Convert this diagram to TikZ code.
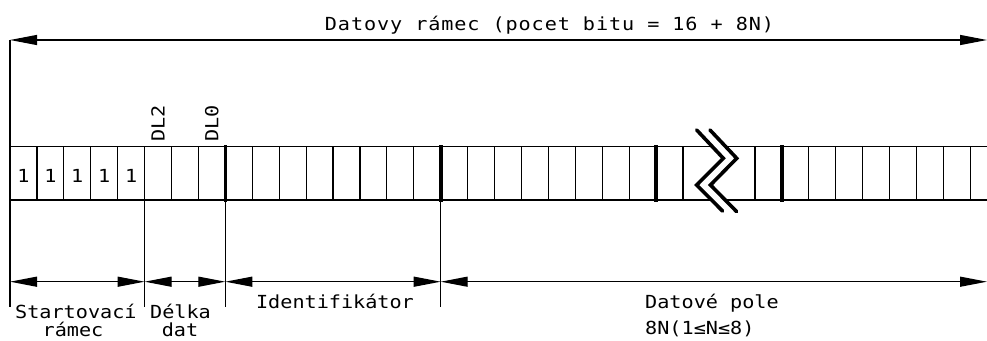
\documentclass[tikz,border=0pt]{standalone}
\usepackage{fontspec}
\newfontfamily\cad{DejaVu Sans Mono}[FakeStretch=1.12]
\usetikzlibrary{arrows.meta}
\begin{document}
\begin{tikzpicture}[x=1pt,y=-1pt,
  dimarrow/.style={line width=1.2pt,{Triangle[length=27pt,width=10pt]}-{Triangle[length=27pt,width=10pt]}},
  cellline/.style={line width=1.2pt},
  thickline/.style={line width=3.6pt},
  extline/.style={line width=1.2pt},
  zigline/.style={line width=3.6pt,line cap=round,line join=miter},
  lbl/.style={font=\cad\fontsize{18}{22}\selectfont,inner sep=0pt}]
\useasboundingbox (0,0) rectangle (987,340);
% top dimension
\coordinate (T0) at (10,40);
\coordinate (T1) at (987,40);
\coordinate (T0b) at (10,307);
\draw[extline] (T0) -- (T0b);
\draw[dimarrow] (T0) -- (T1);
% cell row
\draw[cellline] (10,146.7) -- (987,146.7);
\draw[cellline] (10,200) -- (987,200);
\foreach \k in {0,...,25} \draw[cellline] ({10+26.92*\k},146.7) -- ++(0,53.3);
\foreach \j in {0,...,8} \draw[cellline] ({755+26.92*\j},146.7) -- ++(0,53.3);
\foreach \x in {225.36,440.72,656.08,781.92} \draw[thickline] (\x,145) -- (\x,202);
% break symbol
\draw[white,line width=10pt] (703.3,128) -- (730,158.3) -- (703.3,185) -- (730,213);
\draw[zigline] (696.7,130) -- (723.3,158.3) -- (696.7,185) -- (722.5,211);
\draw[zigline] (710,130) -- (736.7,158.3) -- (710.5,185) -- (736.7,211.7);
% extension lines
\coordinate (E1t) at (144.6,200);   \coordinate (E1b) at (144.6,307);
\coordinate (E2t) at (225.36,200);  \coordinate (E2b) at (225.36,307);
\coordinate (E3t) at (440.72,200);  \coordinate (E3b) at (440.72,307);
\draw[extline] (E1t) -- (E1b);
\draw[extline] (E2t) -- (E2b);
\draw[extline] (E3t) -- (E3b);
% bottom dimensions
\coordinate (B0) at (10,281.7);
\coordinate (B1) at (144.6,281.7);
\coordinate (B2) at (225.36,281.7);
\coordinate (B3) at (440.72,281.7);
\coordinate (B4) at (987,281.7);
\draw[dimarrow] (B0) -- (B1);
\draw[dimarrow] (B1) -- (B2);
\draw[dimarrow] (B2) -- (B3);
\draw[dimarrow] (B3) -- (B4);
% texts
\node[lbl,anchor=base] (title) at (549.5,30) {\addfontfeatures{LetterSpace=5}Datovy rámec (pocet bitu = 16 + 8N)};
\foreach \k in {0,...,4} \node[lbl] (one\k) at ({23.46+26.92*\k},176) {1};
\node[lbl,rotate=90,anchor=west] (dltwo) at (158.06,142) {DL2};
\node[lbl,rotate=90,anchor=west] (dlzero) at (211.9,142) {DL0};
\node[lbl,anchor=base west] (st1) at (15,318) {Startovací};
\node[lbl,anchor=base] (st2) at (73,336) {rámec};
\node[lbl,anchor=base west] (de1) at (150,318) {Délka};
\node[lbl,anchor=base] (de2) at (180,336) {dat};
\node[lbl,anchor=base] (ident) at (335,308) {Identifikátor};
\node[lbl,anchor=base west] (dp1) at (645,308) {Datové pole};
\node[lbl,anchor=base west] (dp2) at (645,334) {8N(1≤N≤8)};
\end{tikzpicture}
\end{document}
